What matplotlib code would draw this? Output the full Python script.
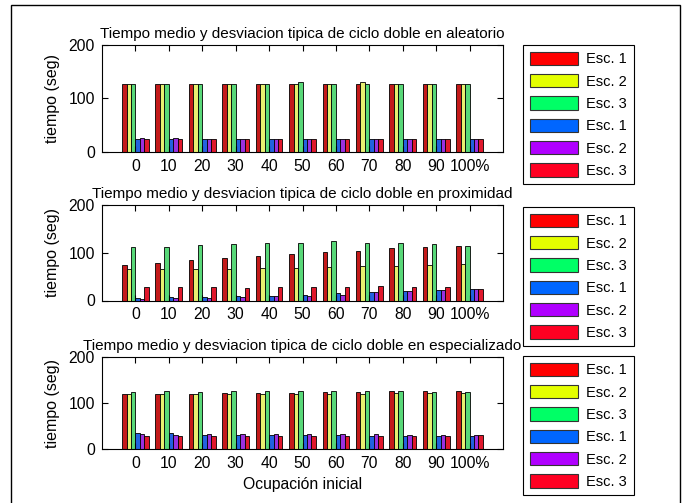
import matplotlib
matplotlib.use("Agg")
import matplotlib.pyplot as plt
import numpy as np
from matplotlib.patches import Rectangle, Patch

plt.rcParams['font.family'] = ['Liberation Sans', 'DejaVu Sans']

categories = ['0', '10', '20', '30', '40', '50', '60', '70', '80', '90', '100%']
series_labels = ['Esc. 1', 'Esc. 2', 'Esc. 3', 'Esc. 1', 'Esc. 2', 'Esc. 3']

# aleatorio: means (Esc 1-3) and std devs (Esc 1-3)
ale_m1 = [128, 128, 128, 128, 128, 128, 128, 128, 128, 128, 128]
ale_m2 = [128, 128, 128, 128, 128, 128, 128, 130, 128, 128, 128]
ale_m3 = [128, 128, 128, 128, 128, 130, 128, 128, 128, 128, 128]
ale_s1 = [24, 24, 24, 24, 24, 24, 24, 24, 24, 24, 24]
ale_s2 = [26, 26, 24, 24, 24, 24, 24, 24, 24, 24, 24]
ale_s3 = [24, 24, 24, 24, 24, 24, 24, 24, 24, 24, 24]

# proximidad
pro_m1 = [75, 79, 85, 90, 93, 97, 102, 104, 109, 111, 114]
pro_m2 = [65, 65, 65, 65, 68, 68, 70, 72, 72, 74, 77]
pro_m3 = [111, 113, 116, 119, 121, 121, 124, 121, 121, 119, 114]
pro_s1 = [6, 7, 7, 10, 10, 12, 15, 17, 20, 22, 24]
pro_s2 = [3, 5, 5, 8, 10, 10, 12, 17, 20, 22, 24]
pro_s3 = [28, 28, 28, 26, 28, 28, 28, 30, 28, 28, 24]

# especializado
esp_m1 = [120, 120, 120, 122, 122, 122, 124, 124, 126, 126, 126]
esp_m2 = [120, 120, 120, 120, 120, 120, 120, 120, 122, 122, 122]
esp_m3 = [124, 127, 124, 127, 127, 127, 127, 127, 127, 124, 124]
esp_s1 = [35, 35, 30, 30, 30, 30, 30, 28, 28, 28, 28]
esp_s2 = [33, 31, 33, 33, 33, 33, 33, 33, 31, 31, 31]
esp_s3 = [28, 28, 28, 28, 28, 28, 28, 28, 28, 28, 31]

titles = ['Tiempo medio y desviacion tipica de ciclo doble en aleatorio',
          'Tiempo medio y desviacion tipica de ciclo doble en proximidad',
          'Tiempo medio y desviacion tipica de ciclo doble en especializado']

bar_colors = ['#c41a1a', '#e8f070', '#58d878', '#2262e0', '#9a30e0', '#e0182c']
leg_colors = ['#ff0000', '#e4ff00', '#00ff66', '#0066ff', '#b000ff', '#ff0022']

datasets = [
    [ale_m1, ale_m2, ale_m3, ale_s1, ale_s2, ale_s3],
    [pro_m1, pro_m2, pro_m3, pro_s1, pro_s2, pro_s3],
    [esp_m1, esp_m2, esp_m3, esp_s1, esp_s2, esp_s3],
]

W, H = 687, 503
fig = plt.figure(figsize=(W / 100, H / 100), dpi=100)

# axes boxes in pixels: (left, top, right, bottom)
ax_px = [(102, 45, 503, 152), (102, 205, 503, 300.5), (102, 357, 503, 449)]
leg_px = [(523, 45), (523, 207), (523, 356)]

x = np.arange(1, len(categories) + 1)
bw = 0.8 / 6

for k, (data, title) in enumerate(zip(datasets, titles)):
    l, t, r, b = ax_px[k]
    ax = fig.add_axes([l / W, 1 - b / H, (r - l) / W, (b - t) / H])
    for i, vals in enumerate(data):
        ax.bar(x + (i - 2.5) * bw, vals, width=bw, color=bar_colors[i],
               edgecolor='black', linewidth=0.6, align='center')
    ax.set_xlim(0, 12)
    ax.set_ylim(0, 200)
    ax.set_yticks([0, 100, 200])
    ax.set_xticks(x)
    ax.set_xticklabels(categories)
    ax.tick_params(direction='in', top=True, right=True, length=4,
                   labelsize=11.3, width=0.8, pad=5)
    ax.set_ylabel('tiempo (seg)', fontsize=11.5, labelpad=6)
    ax.set_title(title, fontsize=11, pad=5)
    for s in ax.spines.values():
        s.set_linewidth(0.8)
    handles = [Patch(facecolor=c, edgecolor='#333333', linewidth=0.8) for c in leg_colors]
    lx, ly = leg_px[k]
    leg = fig.legend(handles, series_labels, loc='upper left',
                     bbox_to_anchor=(lx / W, 1 - ly / H), fontsize=10.5,
                     fancybox=False, framealpha=1, edgecolor='black',
                     handlelength=3.3, handleheight=1.05, labelspacing=0.52,
                     handletextpad=0.6, borderpad=0.45, borderaxespad=0)
    leg.get_frame().set_linewidth(0.8)
    if k == 2:
        ax.set_xlabel('Ocupación inicial', fontsize=11.3)

fig.add_artist(Rectangle((11 / W, -0.02), (680 - 11) / W, 1 - 5 / H + 0.02,
                         transform=fig.transFigure, fill=False,
                         edgecolor='black', linewidth=1))

fig.savefig('out.png', dpi=100)
